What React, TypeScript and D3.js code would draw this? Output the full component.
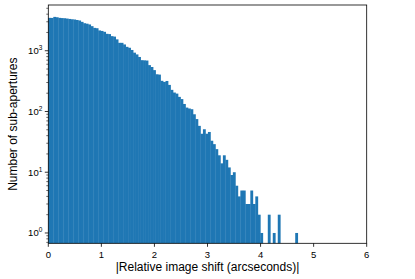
import React, { useEffect, useRef } from 'react'
import * as d3 from 'd3'

// histogram: 100 bins from 0 to 4.7 arcsec
const binStart = 0
const binEnd = 4.7
const counts = [
  3480, 3470, 3610, 3560, 3480, 3450, 3430, 3390, 3340, 3300,
  3270, 3210, 3150, 2990, 2840, 2790, 2710, 2540, 2380, 2350,
  2160, 2120, 2050, 1900, 1880, 1740, 1710, 1540, 1350, 1350,
  1270, 1160, 1120, 1030, 930, 870, 790, 700, 695, 690,
  580, 540, 480, 410, 405, 320, 307, 318, 274, 227,
  205, 197, 174, 160, 133, 116, 112, 109, 90, 75,
  58, 43, 51, 43, 46, 33, 29, 24, 19, 14,
  19, 16, 12, 9, 10, 6, 4, 5, 5, 3,
  3, 5, 3, 4, 2, 1, 0, 0, 2, 0,
  1, 0, 2, 0, 0, 0, 0, 0, 0, 1,
]
const xTicks = [0, 1, 2, 3, 4, 5, 6]
const yTicks = [0, 1, 2, 3] // powers of ten

const App = () => {
  const svgRef = useRef<SVGSVGElement>(null)

  useEffect(() => {
    const width = 415
    const height = 279
    const left = 48.3
    const right = 366.7
    const top = 5
    const bottom = 243.3
    const font = "'Liberation Sans', Arial, sans-serif"

    const svg = d3.select(svgRef.current).attr('width', width).attr('height', height)
    svg.selectAll('*').remove()

    const x = d3.scaleLinear().domain([0, 6]).range([left, right])
    const y = d3.scaleLog().domain([0.676, 5665]).range([bottom, top])

    const binW = (binEnd - binStart) / counts.length
    const bins = counts.map((c, i) => ({ x0: binStart + i * binW, x1: binStart + (i + 1) * binW, c }))

    // slight overlap so seams stay faint like matplotlib's antialiasing
    svg
      .append('g')
      .selectAll('rect')
      .data(bins.filter((d) => d.c > 0))
      .enter()
      .append('rect')
      .attr('x', (d) => x(d.x0))
      .attr('width', (d) => x(d.x1) - x(d.x0) + 0.35)
      .attr('y', (d) => y(d.c))
      .attr('height', (d) => bottom - y(d.c))
      .attr('fill', '#1f77b4')

    // frame
    svg
      .append('rect')
      .attr('x', left)
      .attr('y', top)
      .attr('width', right - left)
      .attr('height', bottom - top)
      .attr('fill', 'none')
      .attr('stroke', '#000')
      .attr('stroke-width', 0.8)

    // x ticks
    const xg = svg.append('g')
    xTicks.forEach((t) => {
      xg.append('line')
        .attr('x1', x(t)).attr('x2', x(t))
        .attr('y1', bottom).attr('y2', bottom + 3.5)
        .attr('stroke', '#000').attr('stroke-width', 0.8)
      xg.append('text')
        .attr('x', x(t)).attr('y', 258)
        .attr('text-anchor', 'middle')
        .style('font-family', font).style('font-size', '9.5px')
        .text(t)
    })

    // y ticks (major + minor)
    const yg = svg.append('g')
    yTicks.forEach((p) => {
      const v = Math.pow(10, p)
      yg.append('line')
        .attr('x1', left - 3.5).attr('x2', left)
        .attr('y1', y(v)).attr('y2', y(v))
        .attr('stroke', '#000').attr('stroke-width', 0.8)
      const label = yg.append('text')
        .attr('x', left - 6).attr('y', y(v) + 3.4)
        .attr('text-anchor', 'end')
        .style('font-family', font).style('font-size', '9.5px')
      label.append('tspan').text('10')
      label.append('tspan').attr('dy', -4).style('font-size', '6.5px').text(String(p))
    })
    for (let p = -1; p <= 3; p++) {
      for (let m = 2; m <= 9; m++) {
        const v = m * Math.pow(10, p)
        if (v < 0.676 || v > 5665) continue
        yg.append('line')
          .attr('x1', left - 2).attr('x2', left)
          .attr('y1', y(v)).attr('y2', y(v))
          .attr('stroke', '#000').attr('stroke-width', 0.6)
      }
    }

    svg
      .append('text')
      .attr('x', (left + right) / 2)
      .attr('y', 271)
      .attr('text-anchor', 'middle')
      .style('font-family', font)
      .style('font-size', '12px')
      .text('|Relative image shift (arcseconds)|')

    svg
      .append('text')
      .attr('transform', `translate(16.5, ${(top + bottom) / 2}) rotate(-90)`)
      .attr('text-anchor', 'middle')
      .style('font-family', font)
      .style('font-size', '12px')
      .text('Number of sub-apertures')
  }, [])

  return (
    <div style={{ position: 'absolute', left: 0, top: 0 }}>
      <svg ref={svgRef}></svg>
    </div>
  )
}

export default App
